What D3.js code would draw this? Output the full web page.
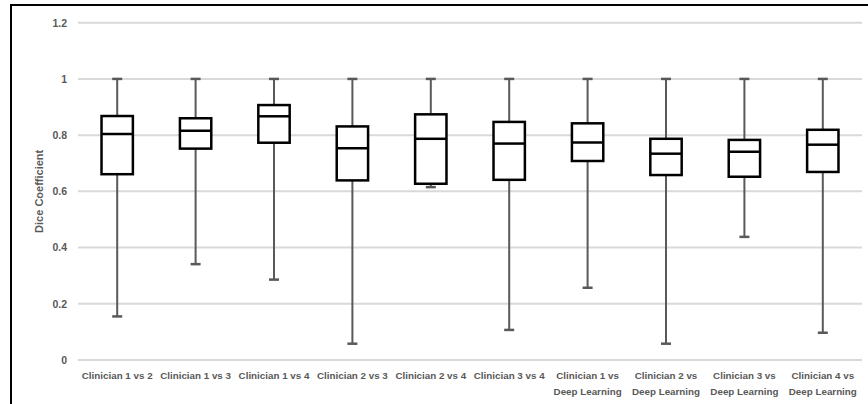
<!DOCTYPE html>
<html>
<head>
<meta charset="utf-8">
<script src="https://cdn.jsdelivr.net/npm/d3@7"></script>
<style>
  html, body { margin: 0; padding: 0; background: #fff; }
  svg { display: block; }
</style>
</head>
<body>
<svg id="chart" width="868" height="404"></svg>
<script>
// ---- data ----
const categories = [
  ["Clinician 1 vs 2"],
  ["Clinician 1 vs 3"],
  ["Clinician 1 vs 4"],
  ["Clinician 2 vs 3"],
  ["Clinician 2 vs 4"],
  ["Clinician 3 vs 4"],
  ["Clinician 1 vs", "Deep Learning"],
  ["Clinician 2 vs", "Deep Learning"],
  ["Clinician 3 vs", "Deep Learning"],
  ["Clinician 4 vs", "Deep Learning"]
];
const minValues    = [0.155, 0.341, 0.286, 0.058, 0.615, 0.107, 0.257, 0.058, 0.438, 0.097];
const q1Values     = [0.661, 0.752, 0.773, 0.639, 0.627, 0.641, 0.708, 0.658, 0.652, 0.669];
const medianValues = [0.804, 0.816, 0.867, 0.753, 0.787, 0.770, 0.774, 0.734, 0.741, 0.766];
const q3Values     = [0.868, 0.860, 0.907, 0.831, 0.874, 0.847, 0.842, 0.787, 0.783, 0.819];
const maxValues    = [1, 1, 1, 1, 1, 1, 1, 1, 1, 1];
const yTicks = [0, 0.2, 0.4, 0.6, 0.8, 1, 1.2];
const yTickLabels = ["0", "0.2", "0.4", "0.6", "0.8", "1", "1.2"];
const yAxisTitle = "Dice Coefficient";

// ---- chart ----
const svg = d3.select("#chart");
const font = "'Liberation Sans', Arial, sans-serif";
const textColor = "#595959";

// outer frame (extends past right/bottom edges)
svg.append("rect")
  .attr("x", 11).attr("y", 5)
  .attr("width", 900).attr("height", 450)
  .attr("fill", "none").attr("stroke", "#000").attr("stroke-width", 2);

const plotLeft = 78, plotRight = 862;
const x = d3.scaleBand()
  .domain(d3.range(categories.length))
  .range([plotLeft, plotRight])
  .paddingInner(0).paddingOuter(0);
const y = d3.scaleLinear().domain([0, 1.2]).range([360, 22.7]);

// gridlines
svg.append("g").selectAll("line")
  .data(yTicks).join("line")
  .attr("x1", plotLeft).attr("x2", plotRight)
  .attr("y1", d => y(d)).attr("y2", d => y(d))
  .attr("stroke", "#d9d9d9").attr("stroke-width", 2);

// y tick labels via axis
const yAxis = d3.axisLeft(y).tickValues(yTicks)
  .tickFormat((d, i) => yTickLabels[i]).tickSize(0).tickPadding(0);
const gy = svg.append("g").attr("transform", "translate(67,0)").call(yAxis);
gy.select(".domain").remove();
gy.selectAll("text")
  .attr("fill", textColor)
  .style("font-family", font).style("font-size", "10.5px").style("font-weight", "bold");

// y title
svg.append("text")
  .attr("transform", `translate(43,${y(0.6)}) rotate(-90)`)
  .attr("text-anchor", "middle")
  .attr("fill", textColor)
  .style("font-family", font).style("font-size", "11px").style("font-weight", "bold")
  .text(yAxisTitle);

// boxes
const data = categories.map((c, i) => ({
  i, min: minValues[i], q1: q1Values[i], med: medianValues[i], q3: q3Values[i], max: maxValues[i]
}));
const boxW = x.bandwidth() * 0.4;
const capW = 10;
const g = svg.append("g");
const cx = d => x(d.i) + x.bandwidth() / 2;

// whiskers
g.selectAll(".wlow").data(data).join("line")
  .attr("x1", cx).attr("x2", cx)
  .attr("y1", d => y(d.q1)).attr("y2", d => y(d.min))
  .attr("stroke", "#595959").attr("stroke-width", 2);
g.selectAll(".whigh").data(data).join("line")
  .attr("x1", cx).attr("x2", cx)
  .attr("y1", d => y(d.q3)).attr("y2", d => y(d.max))
  .attr("stroke", "#595959").attr("stroke-width", 2);
// caps
["min", "max"].forEach(k => {
  g.selectAll(".cap" + k).data(data).join("line")
    .attr("x1", d => cx(d) - capW / 2).attr("x2", d => cx(d) + capW / 2)
    .attr("y1", d => y(d[k])).attr("y2", d => y(d[k]))
    .attr("stroke", "#595959").attr("stroke-width", 2.5);
});
// box
g.selectAll(".box").data(data).join("rect")
  .attr("x", d => cx(d) - boxW / 2)
  .attr("width", boxW)
  .attr("y", d => y(d.q3))
  .attr("height", d => y(d.q1) - y(d.q3))
  .attr("fill", "#fff").attr("stroke", "#000").attr("stroke-width", 2.5);
// median
g.selectAll(".med").data(data).join("line")
  .attr("x1", d => cx(d) - boxW / 2).attr("x2", d => cx(d) + boxW / 2)
  .attr("y1", d => y(d.med)).attr("y2", d => y(d.med))
  .attr("stroke", "#000").attr("stroke-width", 2.5);

// x labels
const xl = svg.append("g").selectAll("text").data(categories).join("text")
  .attr("x", (d, i) => x(i) + x.bandwidth() / 2)
  .attr("y", 379)
  .attr("text-anchor", "middle")
  .attr("fill", textColor)
  .style("font-family", font).style("font-size", "9.8px").style("font-weight", "bold");
xl.each(function(d) {
  const t = d3.select(this);
  d.forEach((line, j) => {
    t.append("tspan").attr("x", t.attr("x")).attr("dy", j === 0 ? 0 : 15.7).text(line);
  });
});
</script>
</body>
</html>
